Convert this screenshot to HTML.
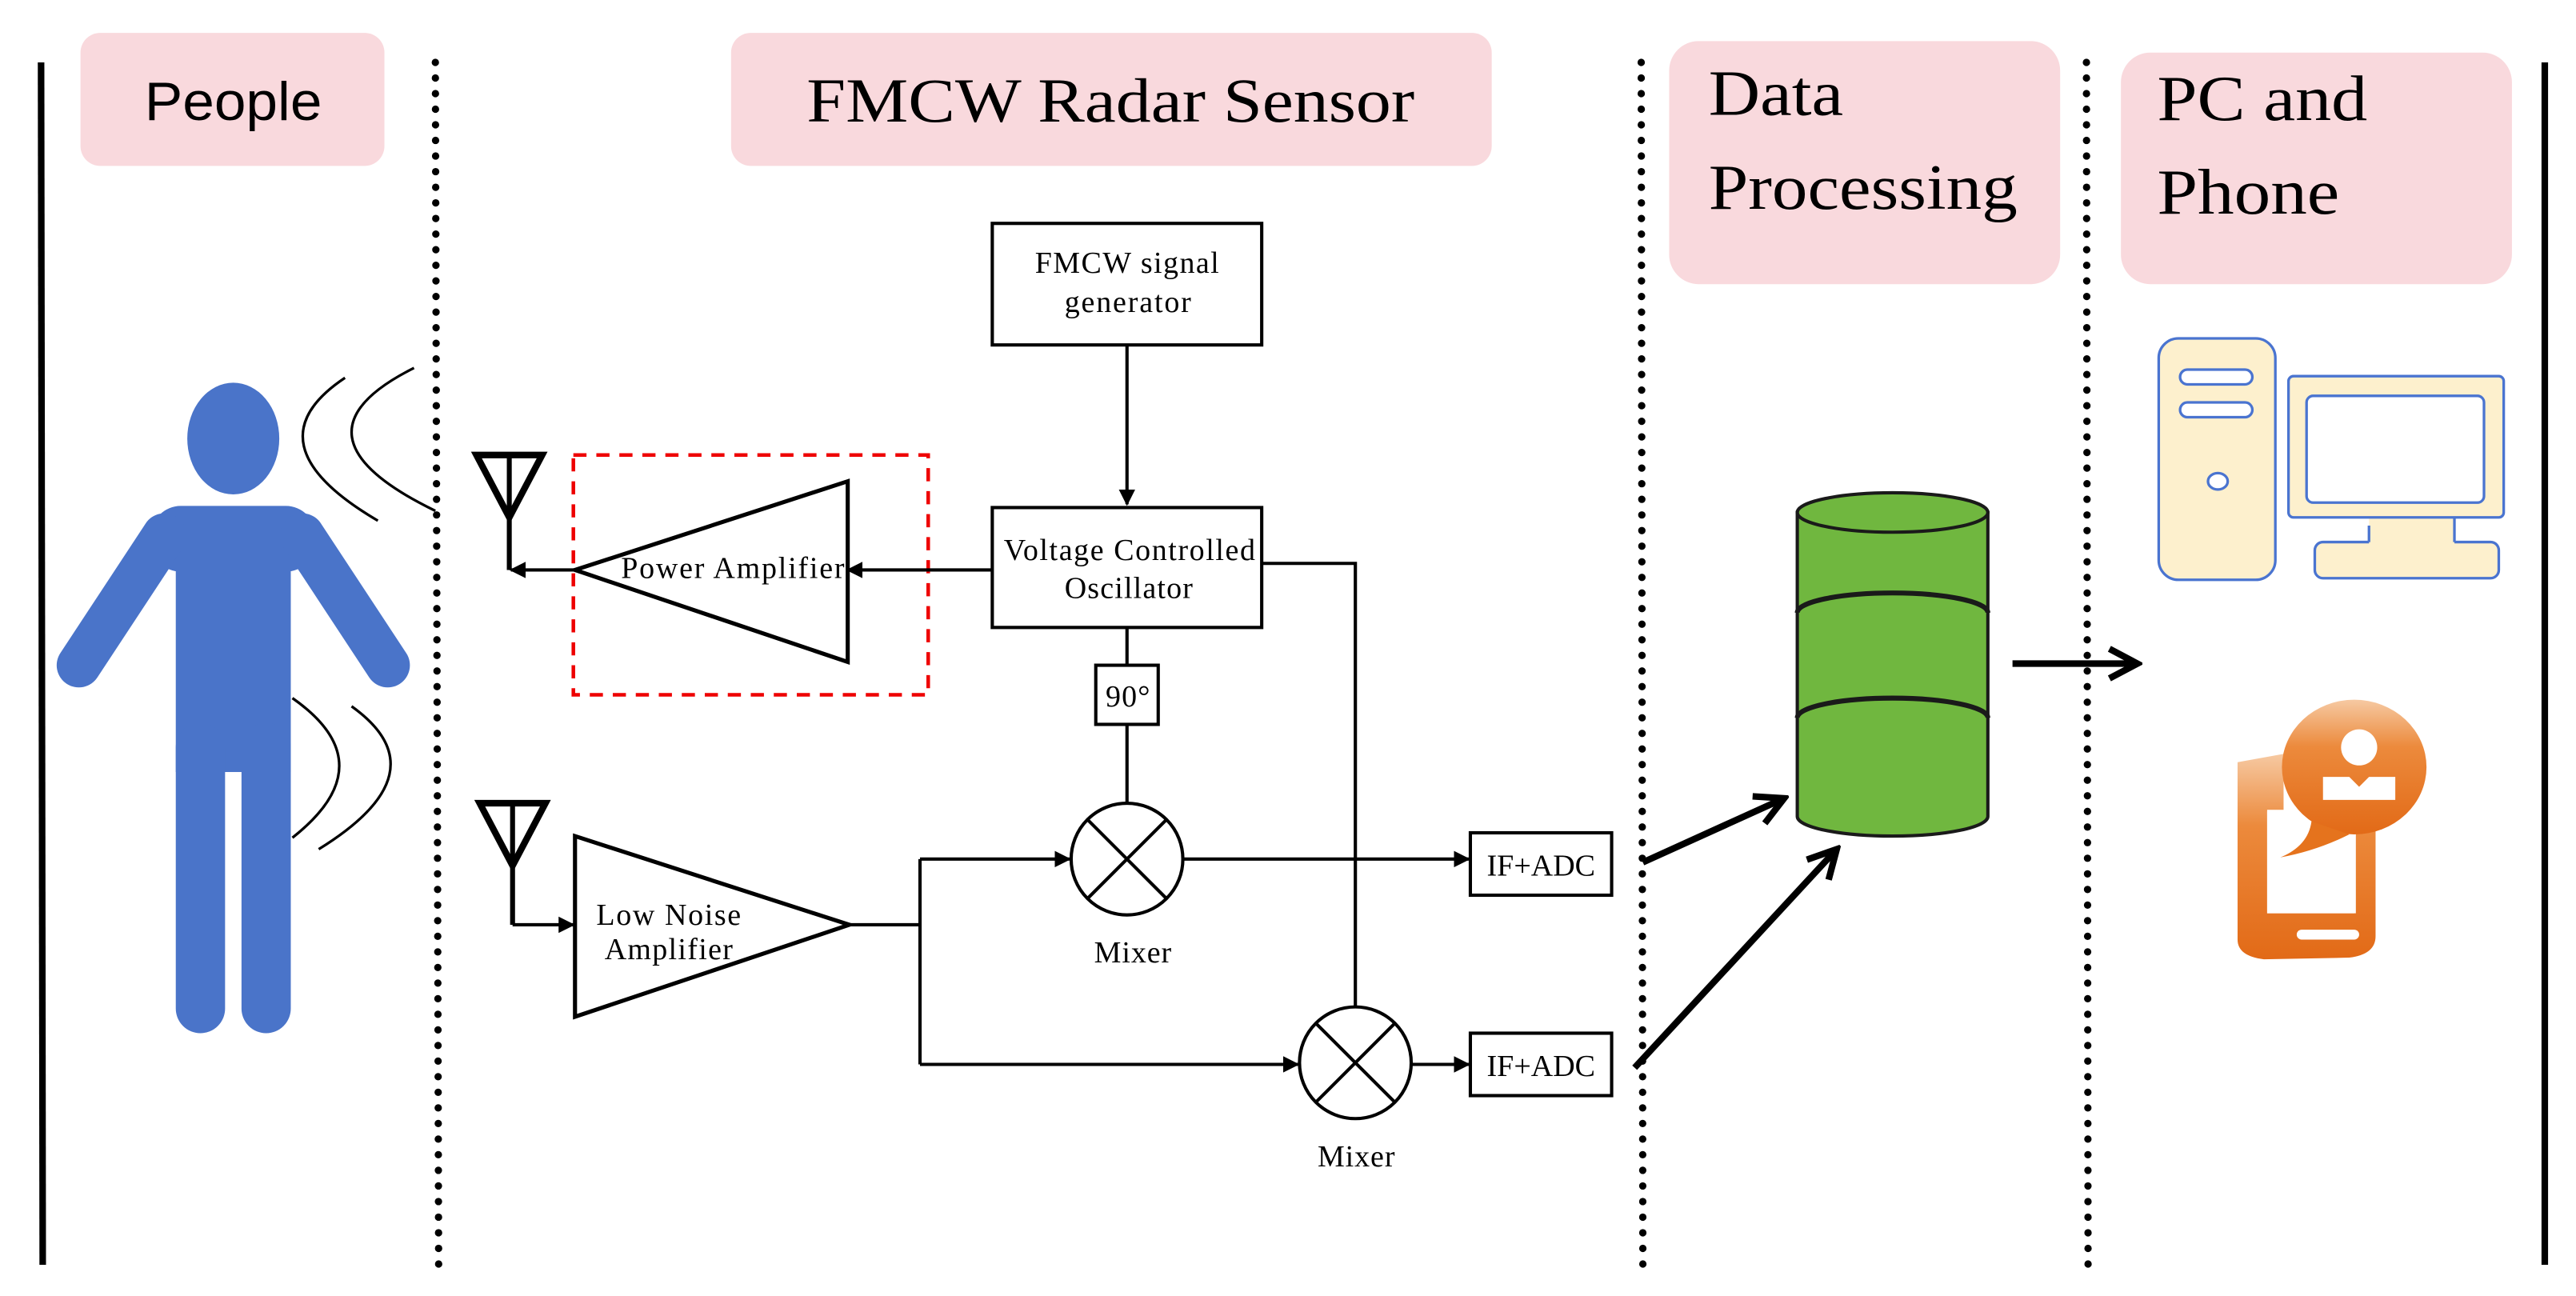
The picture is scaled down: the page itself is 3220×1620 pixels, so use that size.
<!DOCTYPE html>
<html><head><meta charset="utf-8"><style>
html,body{margin:0;padding:0;background:#fff;}
svg{display:block;}
.serif{font-family:"Liberation Serif",serif;}
.sans{font-family:"Liberation Sans",sans-serif;}
</style></head><body>
<svg width="3220" height="1620" viewBox="0 0 1568 789" preserveAspectRatio="none" xmlns="http://www.w3.org/2000/svg">
<defs>
<marker id="ah" markerWidth="10" markerHeight="10" refX="9" refY="5" orient="auto" markerUnits="userSpaceOnUse"><path d="M0,0 L10,5 L0,10 z" fill="#000"/></marker>
<marker id="bh" markerWidth="22" markerHeight="22" refX="19" refY="11" orient="auto" markerUnits="userSpaceOnUse"><path d="M2,2 L19,11 L2,20" fill="none" stroke="#000" stroke-width="4"/></marker>
<linearGradient id="og" x1="0" y1="0" x2="0" y2="1"><stop offset="0" stop-color="#f6c9a2"/><stop offset="0.35" stop-color="#ec8a3c"/><stop offset="1" stop-color="#e26a17"/></linearGradient>
</defs>
<line x1="25" y1="38" x2="26" y2="770" stroke="#000" stroke-width="4"/>
<line x1="1549" y1="38" x2="1549" y2="770" stroke="#000" stroke-width="4"/>
<g stroke="#000" stroke-width="4.5" stroke-linecap="round" stroke-dasharray="0 9.5">
<line x1="265" y1="38" x2="267" y2="770"/>
<line x1="999" y1="38" x2="1000" y2="770"/>
<line x1="1270" y1="38" x2="1271" y2="770"/>
</g>
<g fill="#f9d9dd">
<rect x="49" y="20" width="185" height="81" rx="12"/>
<rect x="445" y="20" width="463" height="81" rx="12"/>
<rect x="1016" y="25" width="238" height="148" rx="18"/>
<rect x="1291" y="32" width="238" height="141" rx="18"/>
</g>
<text x="88" y="73" class="sans" font-size="33" textLength="108" lengthAdjust="spacingAndGlyphs">People</text>
<text x="491" y="74" class="serif" font-size="38" textLength="370" lengthAdjust="spacingAndGlyphs">FMCW Radar Sensor</text>
<text x="1040" y="70" class="serif" font-size="39" textLength="82" lengthAdjust="spacingAndGlyphs">Data</text>
<text x="1040" y="127" class="serif" font-size="39" textLength="188" lengthAdjust="spacingAndGlyphs">Processing</text>
<text x="1313" y="73" class="serif" font-size="39" textLength="128" lengthAdjust="spacingAndGlyphs">PC and</text>
<text x="1313" y="130" class="serif" font-size="39" textLength="111" lengthAdjust="spacingAndGlyphs">Phone</text>
<g fill="#4a74c9" stroke="none">
<ellipse cx="142" cy="267" rx="28" ry="34"/>
<rect x="92" y="308" width="100" height="40" rx="18"/>
<rect x="107" y="320" width="70" height="150"/>
<rect x="107" y="440" width="30" height="189" rx="15"/>
<rect x="147" y="440" width="30" height="189" rx="15"/>
</g>
<g stroke="#4a74c9" stroke-width="27" stroke-linecap="round">
<line x1="100" y1="326" x2="48" y2="405"/>
<line x1="184" y1="326" x2="236" y2="405"/>
</g>
<g fill="none" stroke="#000" stroke-width="1.6">
<path d="M210,230 Q150,270 230,317"/>
<path d="M252,224 Q170,265 265,311"/>
<path d="M178,425 Q235,465 178,510"/>
<path d="M214,430 Q270,470 194,517"/>
</g>
<g stroke="#000" stroke-width="3" fill="none">
<path d="M290,277 L330,277 L310,315 Z" stroke-width="4"/>
<line x1="310" y1="277" x2="310" y2="347"/>
<path d="M292,489 L332,489 L312,527 Z" stroke-width="4"/>
<line x1="312" y1="489" x2="312" y2="563"/>
</g>
<rect x="349" y="277" width="216" height="146" fill="none" stroke="#e00" stroke-width="2.2" stroke-dasharray="8 6"/>
<g stroke="#000" stroke-width="2" fill="none">
<polygon points="516,293 516,403 350,347" stroke-width="2.5"/>
<polygon points="350,509 350,619 517,563" stroke-width="2.5"/>
<rect x="604" y="136" width="164" height="74"/>
<rect x="604" y="309" width="164" height="73"/>
<rect x="667" y="405" width="38" height="36"/>
<rect x="895" y="507" width="86" height="38"/>
<rect x="895" y="629" width="86" height="38"/>
<circle cx="686" cy="523" r="34"/>
<path d="M662,499 L710,547 M710,499 L662,547"/>
<circle cx="825" cy="647" r="34"/>
<path d="M801,623 L849,671 M849,623 L801,671"/>
<line x1="686" y1="210" x2="686" y2="307" marker-end="url(#ah)"/>
<line x1="604" y1="347" x2="516" y2="347" marker-end="url(#ah)"/>
<line x1="350" y1="347" x2="311" y2="347" marker-end="url(#ah)"/>
<line x1="312" y1="563" x2="349" y2="563" marker-end="url(#ah)"/>
<line x1="686" y1="382" x2="686" y2="405"/>
<line x1="686" y1="441" x2="686" y2="489"/>
<polyline points="768,343 825,343 825,613"/>
<polyline points="517,563 560,563"/>
<line x1="560" y1="523" x2="560" y2="648"/>
<line x1="560" y1="523" x2="651" y2="523" marker-end="url(#ah)"/>
<line x1="560" y1="648" x2="790" y2="648" marker-end="url(#ah)"/>
<line x1="720" y1="523" x2="894" y2="523" marker-end="url(#ah)"/>
<line x1="859" y1="648" x2="894" y2="648" marker-end="url(#ah)"/>
</g>
<g class="serif" font-size="18.5" lengthAdjust="spacingAndGlyphs">
<text x="630" y="166" textLength="112">FMCW signal</text>
<text x="648" y="190" textLength="77">generator</text>
<text x="611" y="341" textLength="153">Voltage Controlled</text>
<text x="648" y="364" textLength="78">Oscillator</text>
<text x="673" y="430" textLength="27">90°</text>
<text x="378" y="352" textLength="136">Power Amplifier</text>
<text x="363" y="563" textLength="88">Low Noise</text>
<text x="368" y="584" textLength="78">Amplifier</text>
<text x="666" y="586" textLength="47">Mixer</text>
<text x="802" y="710" textLength="47">Mixer</text>
<text x="905" y="533" textLength="66">IF+ADC</text>
<text x="905" y="655" textLength="66">IF+ADC</text>
</g>
<g stroke="#000" stroke-width="4" fill="none">
<line x1="1000" y1="525" x2="1086" y2="486" marker-end="url(#bh)"/>
<line x1="995" y1="650" x2="1118" y2="517" marker-end="url(#bh)"/>
<line x1="1225" y1="404" x2="1301" y2="404" marker-end="url(#bh)"/>
</g>
<g stroke="#1a1a1a" stroke-width="2">
<path d="M1094,312 L1094,497 A58,12 0 0 0 1210,497 L1210,312 Z" fill="#70b73f"/>
<ellipse cx="1152" cy="312" rx="58" ry="12" fill="#70b73f"/>
<path d="M1094,373 A58,12 0 0 1 1210,373" fill="none" stroke-width="3"/>
<path d="M1094,437 A58,12 0 0 1 1210,437" fill="none" stroke-width="3"/>
</g>
<g stroke="#4a74d0" stroke-width="1.6" fill="#fdf0cd">
<rect x="1314" y="206" width="71" height="147" rx="12"/>
<rect x="1327" y="225" width="44" height="9" rx="4.5" fill="#fff"/>
<rect x="1327" y="245" width="44" height="9" rx="4.5" fill="#fff"/>
<ellipse cx="1350" cy="293" rx="6" ry="5" fill="#fff"/>
<rect x="1409" y="330" width="112" height="22" rx="5"/>
<rect x="1442" y="312" width="52" height="20" stroke="none"/>
<path d="M1442,330 L1442,320 M1494,330 L1494,314" fill="none"/>
<rect x="1393" y="229" width="131" height="86" rx="3"/>
<rect x="1404" y="241" width="108" height="65" rx="4" fill="#fff"/>
</g>
<g>
<path d="M1362,464 L1390,459 L1390,494 L1380,494 L1380,556 L1433,556 L1433,502 L1446,500 L1446,570 Q1446,581 1430,583 L1378,584 Q1362,582 1362,572 Z" fill="url(#og)"/>
<rect x="1380" y="493" width="54" height="63" fill="#fff"/>
<rect x="1398" y="566" width="38" height="6" rx="3" fill="#fff"/>
<ellipse cx="1433" cy="467" rx="44" ry="41" fill="url(#og)"/>
<path d="M1407,500 Q1405,515 1388,522 Q1410,518 1430,508 Z" fill="#e5731d"/>
<circle cx="1436" cy="455" r="11" fill="#fff"/>
<path d="M1414,473 L1430,473 L1436,479 L1442,473 L1458,473 L1458,487 L1414,487 Z" fill="#fff"/>
</g>
</svg>
</body></html>
